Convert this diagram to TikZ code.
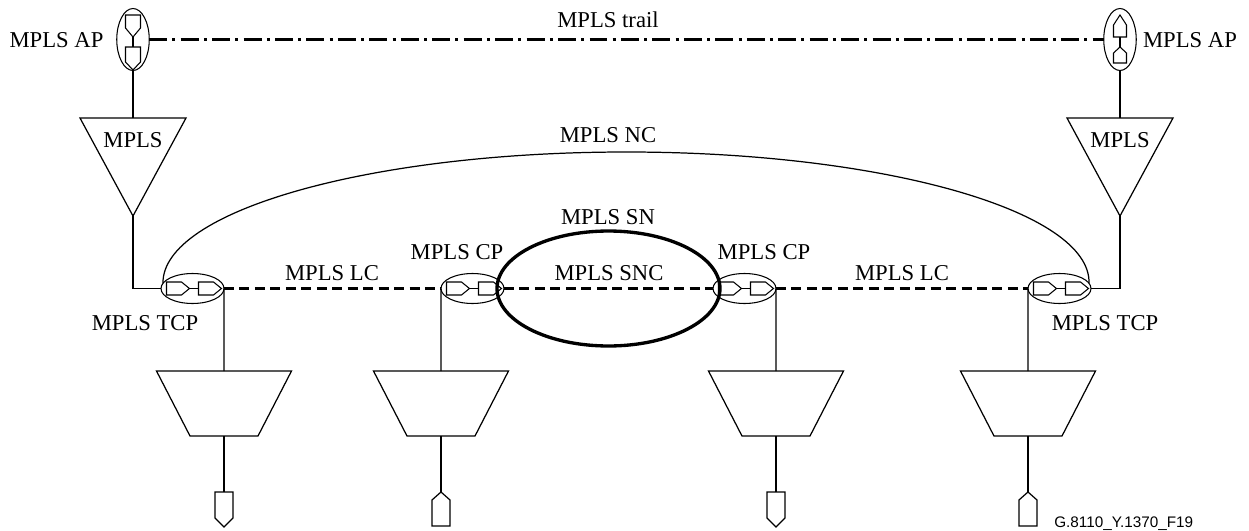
\documentclass[tikz,border=0pt]{standalone}
\usepackage{fontspec}
\setmainfont{Liberation Serif}
\newfontfamily\lsans{Liberation Sans}
\usetikzlibrary{shapes.geometric}
\tikzset{
  fine/.style={line width=0.7pt, line join=miter},
  small/.style={line width=0.6pt, line join=miter},
  lbl/.style={font=\fontsize{12.9}{15}\selectfont, inner sep=0pt, text height=8.5pt, text depth=0pt},
  cpnode/.style={ellipse, draw, line width=0.6pt, minimum width=1.26cm, minimum height=0.6cm, inner sep=0pt, outer sep=0pt},
  apnode/.style={ellipse, draw, line width=0.6pt, minimum width=0.65cm, minimum height=1.24cm, inner sep=0pt, outer sep=0pt},
  lcdash/.style={line width=1.7pt, dash pattern=on 5.7pt off 3.1pt},
  traildash/.style={line width=1.3pt, dash pattern=on 10.2pt off 3pt on 1.7pt off 3pt},
  cpins/.pic={
    \draw[small] (-26,-6.5) -- (-11,-6.5) -- (-3,0) -- (-11,6.5) -- (-26,6.5) -- cycle;
    \draw[line width=1pt] (-3,0) -- (6,0);
    \draw[small] (6,-6.5) -- (21,-6.5) -- (29,0) -- (21,6.5) -- (6,6.5) -- cycle;
  },
  apdown/.pic={
    \draw[small] (-7.5,-24.5) -- (7.5,-24.5) -- (7.5,-11.5) -- (0,-2.5) -- (-7.5,-11.5) -- cycle;
    \draw[line width=1.1pt] (0,-2.5) -- (0,7.5);
    \draw[small] (-7.5,7.5) -- (7.5,7.5) -- (7.5,22.5) -- (0,30.5) -- (-7.5,22.5) -- cycle;
  },
  apup/.pic={
    \draw[small] (0,-24.5) -- (6.5,-14.5) -- (6.5,-2.5) -- (-6.5,-2.5) -- (-6.5,-14.5) -- cycle;
    \draw[line width=1.1pt] (0,-2.5) -- (0,7.5);
    \draw[small] (0,7.5) -- (6.5,13.5) -- (6.5,23.5) -- (-6.5,23.5) -- (-6.5,13.5) -- cycle;
  },
  pentdn/.pic={
    \draw[fine] (-9,0) -- (9,0) -- (9,26) -- (0,35) -- (-9,26) -- cycle;
  },
  pentup/.pic={
    \draw[fine] (0,0) -- (9,8) -- (9,34) -- (-9,34) -- (-9,8) -- cycle;
  }
}
\newcommand\mytrap[2]{%
  \coordinate (#1top) at (#2,371);
  \coordinate (#1bot) at (#2,436);
  \draw[fine] (#2-67.5,371) -- (#2+67.5,371) -- (#2+34,436) -- (#2-34,436) -- cycle;}
\begin{document}
\begin{tikzpicture}[x=0.02cm,y=-0.02cm]
\useasboundingbox (0,0) rectangle (1249,531);

% access points
\node[apnode] (apL) at (133,39.5) {};
\node[apnode] (apR) at (1120,39.5) {};
\pic at (apL.center) {apdown};
\pic at (apR.center) {apup};
\draw[traildash] (apL.east) -- (apR.west);

% triangles
\coordinate (triLa) at (80,118);
\coordinate (triLb) at (186,118);
\coordinate (triLc) at (133,216);
\coordinate (triLtop) at (133,118);
\draw[fine] (triLa) -- (triLb) -- (triLc) -- cycle;
\coordinate (triRa) at (1067,118);
\coordinate (triRb) at (1173,118);
\coordinate (triRc) at (1120,216);
\coordinate (triRtop) at (1120,118);
\draw[fine] (triRa) -- (triRb) -- (triRc) -- cycle;
\draw[fine] (apL.south) -- (triLtop);
\draw[fine] (apR.south) -- (triRtop);

% connection points
\node[cpnode] (tcpL) at (192.5,288.5) {};
\node[cpnode] (cpL) at (472.5,288.5) {};
\node[cpnode] (cpR) at (744.5,288.5) {};
\node[cpnode] (tcpR) at (1059.5,288.5) {};
\pic at (tcpL.center) {cpins};
\pic at (cpL.center) {cpins};
\pic at (cpR.center) {cpins};
\pic at (tcpR.center) {cpins};

\draw[fine] (triLc) |- (tcpL.west);
\draw[fine] (triRc) |- (tcpR.east);

% subnetwork
\node[draw, ellipse, line width=1.9pt, minimum width=4.46cm, minimum height=2.3cm, inner sep=0pt] (sn) at (608.5,288.5) {};

% link connections
\draw[lcdash] (tcpL.east) -- (cpL.west);
\draw[lcdash] (cpL.east) -- (cpR.west);
\draw[lcdash] (cpR.east) -- (tcpR.west);

% network connection
\coordinate (ncTop) at (626.5,152);
\draw[fine] (tcpL.170) .. controls (162,211) and (370,152) .. (ncTop)
  .. controls (883,152) and (1091,211) .. (tcpR.10);

% trapezoids
\mytrap{ta}{224}
\mytrap{tb}{441}
\mytrap{tc}{776}
\mytrap{td}{1028}
\draw[fine] (tcpL.east) -- (tatop);
\draw[fine] (cpL.west) -- (tbtop);
\draw[fine] (cpR.east) -- (tctop);
\draw[fine] (tcpR.west) -- (tdtop);

\coordinate (pa) at (224,492);
\coordinate (pb) at (441,492);
\coordinate (pc) at (776,492);
\coordinate (pd) at (1028,492);
\draw[fine] (tabot) -- (pa);
\draw[fine] (tbbot) -- (pb);
\draw[fine] (tcbot) -- (pc);
\draw[fine] (tdbot) -- (pd);
\pic at (pa) {pentdn};
\pic at (pb) {pentup};
\pic at (pc) {pentdn};
\pic at (pd) {pentup};

% labels
\node[lbl] (tAPL) at (56.5,40.5) {MPLS AP};
\node[lbl] (tAPR) at (1190,40.5) {MPLS AP};
\node[lbl] (tTrail) at (608,20) {MPLS trail};
\node[lbl] (tML) at (133,140) {MPLS};
\node[lbl] (tMR) at (1120,140) {MPLS};
\node[lbl] (tNC) at (608,135) {MPLS NC};
\node[lbl] (tSN) at (608,217) {MPLS SN};
\node[lbl] (tSNC) at (609,273) {MPLS SNC};
\node[lbl] (tCPL) at (457,252) {MPLS CP};
\node[lbl] (tCPR) at (764,252) {MPLS CP};
\node[lbl] (tLCL) at (332,273) {MPLS LC};
\node[lbl] (tLCR) at (902,273) {MPLS LC};
\node[lbl] (tTCPL) at (145,323) {MPLS TCP};
\node[lbl] (tTCPR) at (1105,323) {MPLS TCP};
\node[font=\lsans\fontsize{8.7}{10}\selectfont, inner sep=0pt, anchor=base west] (tFig) at (1054,527.5) {G.8110\_Y.1370\_F19};
\end{tikzpicture}
\end{document}
